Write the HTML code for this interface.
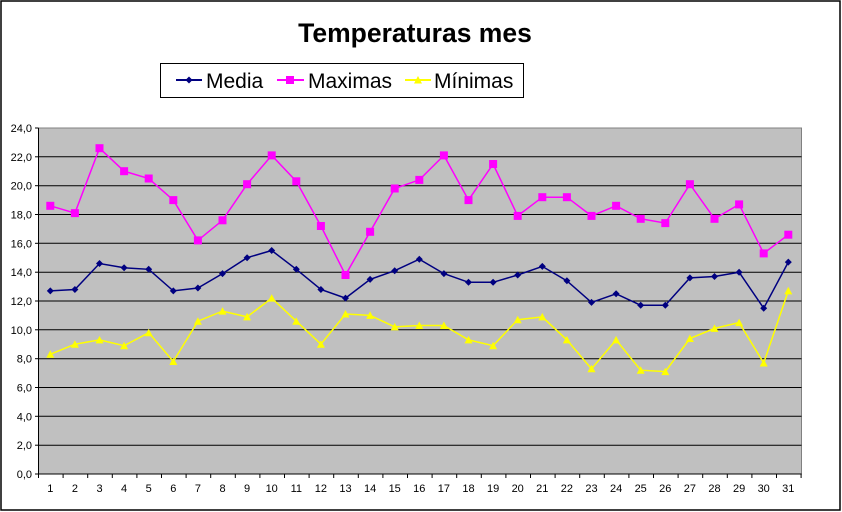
<!DOCTYPE html>
<html><head><meta charset="utf-8"><style>
html,body{margin:0;padding:0;background:#fff;width:842px;height:512px;overflow:hidden}
svg text{font-family:"Liberation Sans",Arial,sans-serif}
</style></head><body>
<svg width="842" height="512" viewBox="0 0 842 512" xmlns="http://www.w3.org/2000/svg">
<defs>
<marker id="md" markerUnits="userSpaceOnUse" markerWidth="10" markerHeight="10" refX="5" refY="5"><path d="M5 1.5 L8.5 5 L5 8.5 L1.5 5Z" fill="#000080"/></marker>
<marker id="mx" markerUnits="userSpaceOnUse" markerWidth="10" markerHeight="10" refX="5" refY="5"><rect x="1" y="1" width="8" height="8" fill="#ff00ff"/></marker>
<marker id="mn" markerUnits="userSpaceOnUse" markerWidth="10" markerHeight="10" refX="5" refY="5"><path d="M5 1 L9 8.5 L1 8.5Z" fill="#ffff00"/></marker>
</defs>
<rect x="1" y="1" width="839" height="509" fill="#fff" stroke="#000" stroke-width="1.5"/>
<text x="415" y="42" font-size="26.5" font-weight="bold" text-anchor="middle">Temperaturas mes</text>
<rect x="160.5" y="63.5" width="363" height="34" fill="#fff" stroke="#000"/>
<line x1="176" y1="80" x2="202" y2="80" stroke="#000080" stroke-width="2"/>
<path d="M189 76.5 L192.5 80 L189 83.5 L185.5 80Z" fill="#000080"/>
<text x="206" y="88" font-size="21">Media</text>
<line x1="277" y1="80" x2="304" y2="80" stroke="#ff00ff" stroke-width="2"/>
<rect x="286" y="76" width="8" height="8" fill="#ff00ff"/>
<text x="308" y="88" font-size="21">Maximas</text>
<line x1="405" y1="80" x2="431" y2="80" stroke="#ffff00" stroke-width="2"/>
<path d="M418 76 L422 83.5 L414 83.5Z" fill="#ffff00"/>
<text x="434" y="88" font-size="21">Mínimas</text>
<rect x="38.5" y="128" width="763" height="346" fill="#c0c0c0" stroke="#808080"/>
<g stroke="#000" stroke-width="1">
<line x1="38.5" x2="801.5" y1="156.8" y2="156.8"/><line x1="38.5" x2="801.5" y1="185.7" y2="185.7"/>
<line x1="38.5" x2="801.5" y1="214.5" y2="214.5"/><line x1="38.5" x2="801.5" y1="243.3" y2="243.3"/>
<line x1="38.5" x2="801.5" y1="272.2" y2="272.2"/><line x1="38.5" x2="801.5" y1="301" y2="301"/>
<line x1="38.5" x2="801.5" y1="329.8" y2="329.8"/><line x1="38.5" x2="801.5" y1="358.7" y2="358.7"/>
<line x1="38.5" x2="801.5" y1="387.5" y2="387.5"/><line x1="38.5" x2="801.5" y1="416.3" y2="416.3"/>
<line x1="38.5" x2="801.5" y1="445.2" y2="445.2"/>
<line x1="38.5" x2="38.5" y1="128" y2="474"/><line x1="38.5" x2="801.5" y1="474" y2="474"/>
<line x1="35" x2="38.5" y1="128" y2="128"/><line x1="35" x2="38.5" y1="156.8" y2="156.8"/><line x1="35" x2="38.5" y1="185.7" y2="185.7"/><line x1="35" x2="38.5" y1="214.5" y2="214.5"/><line x1="35" x2="38.5" y1="243.3" y2="243.3"/><line x1="35" x2="38.5" y1="272.2" y2="272.2"/><line x1="35" x2="38.5" y1="301" y2="301"/><line x1="35" x2="38.5" y1="329.8" y2="329.8"/><line x1="35" x2="38.5" y1="358.7" y2="358.7"/><line x1="35" x2="38.5" y1="387.5" y2="387.5"/><line x1="35" x2="38.5" y1="416.3" y2="416.3"/><line x1="35" x2="38.5" y1="445.2" y2="445.2"/><line x1="35" x2="38.5" y1="474" y2="474"/>
</g>
<path stroke="#000" d="M38.5 474v4M63.1 474v4M87.7 474v4M112.3 474v4M136.9 474v4M161.5 474v4M186.1 474v4M210.7 474v4M235.3 474v4M259.9 474v4M284.5 474v4M309.1 474v4M333.7 474v4M358.3 474v4M382.9 474v4M407.5 474v4M432.1 474v4M456.7 474v4M481.3 474v4M505.9 474v4M530.5 474v4M555.1 474v4M579.7 474v4M604.3 474v4M628.9 474v4M653.5 474v4M678.1 474v4M702.7 474v4M727.3 474v4M751.9 474v4M776.5 474v4M801.1 474v4"/>
<g font-size="11" text-anchor="end">
<text x="32" y="132">24,0</text><text x="32" y="160.8">22,0</text><text x="32" y="189.7">20,0</text><text x="32" y="218.5">18,0</text><text x="32" y="247.3">16,0</text><text x="32" y="276.2">14,0</text><text x="32" y="305">12,0</text><text x="32" y="333.8">10,0</text><text x="32" y="362.7">8,0</text><text x="32" y="391.5">6,0</text><text x="32" y="420.3">4,0</text><text x="32" y="449.2">2,0</text><text x="32" y="478">0,0</text>
</g>
<g font-size="11" text-anchor="middle">
<text x="50.3" y="492">1</text><text x="74.9" y="492">2</text><text x="99.5" y="492">3</text><text x="124.1" y="492">4</text><text x="148.7" y="492">5</text><text x="173.3" y="492">6</text><text x="197.9" y="492">7</text><text x="222.5" y="492">8</text><text x="247.1" y="492">9</text><text x="271.7" y="492">10</text><text x="296.3" y="492">11</text><text x="320.9" y="492">12</text><text x="345.5" y="492">13</text><text x="370.1" y="492">14</text><text x="394.7" y="492">15</text><text x="419.3" y="492">16</text><text x="443.9" y="492">17</text><text x="468.5" y="492">18</text><text x="493.1" y="492">19</text><text x="517.7" y="492">20</text><text x="542.3" y="492">21</text><text x="566.9" y="492">22</text><text x="591.5" y="492">23</text><text x="616.1" y="492">24</text><text x="640.7" y="492">25</text><text x="665.3" y="492">26</text><text x="689.9" y="492">27</text><text x="714.5" y="492">28</text><text x="739.1" y="492">29</text><text x="763.7" y="492">30</text><text x="788.3" y="492">31</text>
</g>
<polyline fill="none" stroke="#ffff00" stroke-width="1.5" marker-start="url(#mn)" marker-mid="url(#mn)" marker-end="url(#mn)" points="50.3,354.3 74.9,344.2 99.5,339.9 124.1,345.7 148.7,332.7 173.3,361.5 197.9,321.2 222.5,311.1 247.1,316.9 271.7,298.1 296.3,321.2 320.9,344.2 345.5,314 370.1,315.4 394.7,326.9 419.3,325.5 443.9,325.5 468.5,339.9 493.1,345.7 517.7,319.7 542.3,316.9 566.9,339.9 591.5,368.8 616.1,339.9 640.7,370.2 665.3,371.6 689.9,338.5 714.5,328.4 739.1,322.6 763.7,363 788.3,290.9"/>
<polyline fill="none" stroke="#000080" stroke-width="1.5" marker-start="url(#md)" marker-mid="url(#md)" marker-end="url(#md)" points="50.3,290.9 74.9,289.5 99.5,263.5 124.1,267.8 148.7,269.3 173.3,290.9 197.9,288 222.5,273.6 247.1,257.7 271.7,250.5 296.3,269.3 320.9,289.5 345.5,298.1 370.1,279.4 394.7,270.7 419.3,259.2 443.9,273.6 468.5,282.3 493.1,282.3 517.7,275 542.3,266.4 566.9,280.8 591.5,302.4 616.1,293.8 640.7,305.3 665.3,305.3 689.9,277.9 714.5,276.5 739.1,272.2 763.7,308.2 788.3,262.1"/>
<polyline fill="none" stroke="#ff00ff" stroke-width="1.5" marker-start="url(#mx)" marker-mid="url(#mx)" marker-end="url(#mx)" points="50.3,205.8 74.9,213.1 99.5,148.2 124.1,171.2 148.7,178.5 173.3,200.1 197.9,240.4 222.5,220.3 247.1,184.2 271.7,155.4 296.3,181.3 320.9,226 345.5,275 370.1,231.8 394.7,188.5 419.3,179.9 443.9,155.4 468.5,200.1 493.1,164 517.7,215.9 542.3,197.2 566.9,197.2 591.5,215.9 616.1,205.8 640.7,218.8 665.3,223.1 689.9,184.2 714.5,218.8 739.1,204.4 763.7,253.4 788.3,234.7"/>
</svg>
</body></html>
